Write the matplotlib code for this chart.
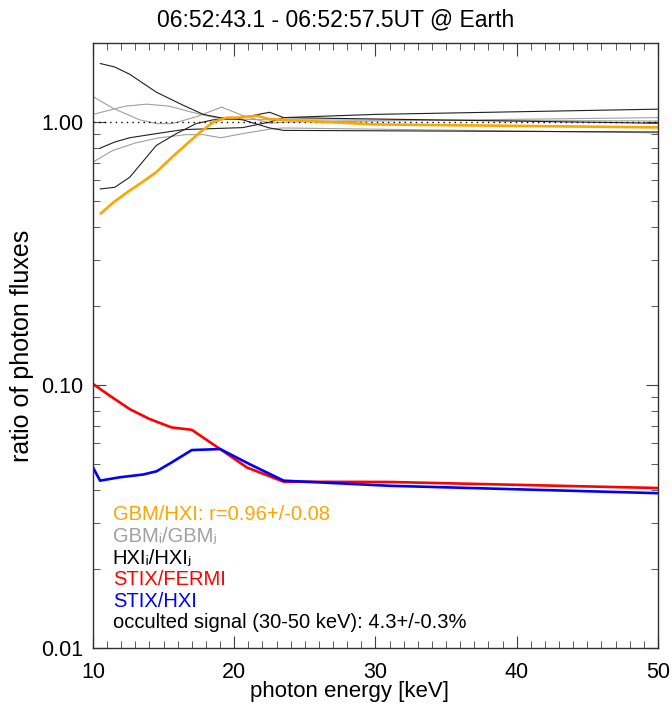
import matplotlib
matplotlib.use("Agg")
import matplotlib.pyplot as plt
from matplotlib.ticker import MultipleLocator, FixedLocator, LogLocator, NullFormatter

plt.rcParams['font.family'] = ['Liberation Sans', 'DejaVu Sans']
plt.rcParams['mathtext.default'] = 'regular'

# ---------------- data ----------------
e_orange = [10.57, 11.44, 12.57, 13.56, 14.51, 15.57, 16.63, 17.57, 18.52, 19.47,
            20.17, 21.6, 22.5, 23.5, 30.0, 50.0]
r_orange = [0.45, 0.495, 0.548, 0.595, 0.647, 0.734, 0.825, 0.914, 1.0, 1.04,
            1.04, 1.057, 1.027, 1.02, 0.98, 0.955]

# GBM_i/GBM_j (gray)
e_gray_a = [10.0, 11.4, 13.3, 14.5, 15.6, 17.3, 19.1, 20.6, 22.5, 23.5, 50.0]
r_gray_a = [1.25, 1.13, 1.02, 0.987, 0.987, 1.047, 1.14, 1.06, 0.99, 1.0, 1.04]
e_gray_b = [10.0, 12.3, 13.8, 15.4, 17.0, 19.0, 22.5, 23.5, 50.0]
r_gray_b = [1.07, 1.15, 1.17, 1.15, 1.09, 1.03, 1.02, 1.02, 1.01]
e_gray_c = [10.0, 11.4, 13.0, 14.7, 16.6, 17.8, 19.05, 20.6, 22.5, 23.5, 50.0]
r_gray_c = [0.705, 0.78, 0.833, 0.872, 0.896, 0.896, 0.872, 0.904, 0.94, 0.95, 0.91]

# HXI_i/HXI_j (black)
e_blk_a = [10.52, 11.54, 12.6, 14.48, 16.37, 17.8, 18.97, 20.6, 22.5, 23.5, 50.0]
r_blk_a = [1.67, 1.62, 1.52, 1.30, 1.16, 1.07, 1.04, 1.02, 0.95, 0.93, 0.917]
e_blk_b = [10.52, 11.54, 12.6, 14.48, 16.37, 17.8, 20.6, 22.5, 23.5, 30.0, 50.0]
r_blk_b = [0.797, 0.84, 0.872, 0.904, 0.936, 0.942, 0.953, 1.0, 1.04, 1.07, 1.12]
e_blk_c = [10.52, 11.54, 12.6, 14.48, 15.9, 17.3, 18.5, 20.15, 22.5, 23.5, 50.0]
r_blk_c = [0.557, 0.565, 0.617, 0.815, 0.904, 0.987, 1.02, 1.03, 1.09, 1.04, 0.99]

# STIX/FERMI (red)
e_red = [10.0, 11.2, 12.6, 14.0, 15.57, 16.99, 19.0, 20.9, 23.5, 31.0, 50.0]
r_red = [0.101, 0.091, 0.081, 0.0743, 0.069, 0.0676, 0.0571, 0.0486, 0.0429, 0.0428, 0.0406]

# STIX/HXI (blue)
e_blue = [10.0, 10.5, 11.9, 13.56, 14.5, 15.57, 16.99, 19.0, 21.1, 23.5, 31.0, 50.0]
r_blue = [0.0486, 0.0433, 0.0446, 0.0457, 0.047, 0.0508, 0.0566, 0.0571, 0.05, 0.0433, 0.0414, 0.0388]

legend_lines = [
    ("GBM/HXI: r=0.96+/-0.08", "orange"),
    ("GBM\u1d62/GBM\u2c7c", "#a0a0a0"),
    ("HXI\u1d62/HXI\u2c7c", "black"),
    ("STIX/FERMI", "red"),
    ("STIX/HXI", "blue"),
    ("occulted signal (30-50 keV): 4.3+/-0.3%", "black"),
]

# ---------------- figure ----------------
fig = plt.figure(figsize=(6.72, 7.04), dpi=100)
ax = fig.add_axes([0.1384, 0.0795, 0.8407, 0.8595])

thin = 0.8
for e, r in [(e_gray_a, r_gray_a), (e_gray_b, r_gray_b), (e_gray_c, r_gray_c)]:
    ax.plot(e, r, color="#a0a0a0", lw=thin)
for e, r in [(e_blk_a, r_blk_a), (e_blk_b, r_blk_b), (e_blk_c, r_blk_c)]:
    ax.plot(e, r, color="#202020", lw=thin)

ax.axhline(1.0, color="black", lw=1.0, ls=(0, (1, 3)))

ax.plot(e_orange, r_orange, color="orange", lw=1.9)
ax.plot(e_red, r_red, color="red", lw=1.9)
ax.plot(e_blue, r_blue, color="blue", lw=1.9)

ax.set_yscale("log")
ax.set_xlim(10, 50)
ax.set_ylim(0.01, 2.0)

ax.xaxis.set_major_locator(MultipleLocator(10))
ax.xaxis.set_minor_locator(MultipleLocator(1))
ax.yaxis.set_major_locator(FixedLocator([0.01, 0.1, 1.0]))
ax.yaxis.set_minor_locator(LogLocator(base=10, subs=range(2, 10)))
ax.yaxis.set_minor_formatter(NullFormatter())
ax.set_yticklabels(["0.01", "0.10", "1.00"])

ax.tick_params(which="both", direction="in", top=True, right=True, labelsize=15.5, color="#404040")
ax.tick_params(axis="x", which="major", pad=10)
ax.tick_params(axis="y", which="major", pad=7)
ax.tick_params(which="major", length=9)
ax.tick_params(which="minor", length=5)
for s in ax.spines.values():
    s.set_linewidth(1.0)
    s.set_color("#303030")

fig.text(22 / 672, 1 - 346 / 704, "ratio of photon fluxes", fontsize=18, rotation=90,
         ha="center", va="center")
fig.text(350 / 672, 1 - 692 / 704, "photon energy [keV]", fontsize=16,
         ha="center", va="center")
fig.text(336 / 672, 1 - 20 / 704, "06:52:43.1 - 06:52:57.5UT @ Earth", fontsize=16.5,
         ha="center", va="center")

y0 = 0.22
dy = 0.0357
for i, (txt, col) in enumerate(legend_lines):
    ax.text(0.035, y0 - i * dy, txt, color=col, fontsize=14.5, transform=ax.transAxes,
            va="center", ha="left")

fig.savefig("out.png", dpi=100)
